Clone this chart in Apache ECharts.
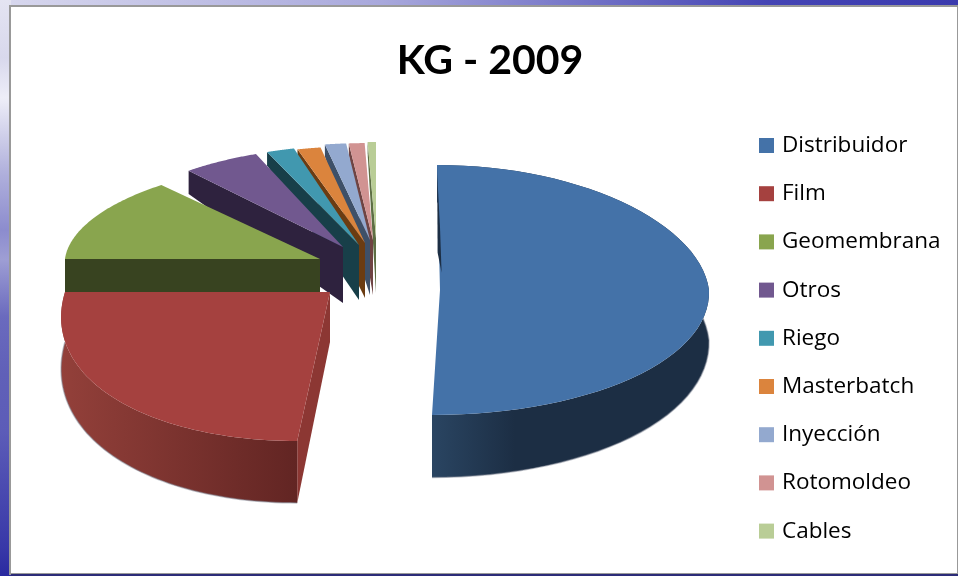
<!DOCTYPE html>
<html>
<head>
<meta charset="utf-8">
<script src="https://cdn.jsdelivr.net/npm/echarts@6/dist/echarts.min.js"></script>
<style>
html, body { margin: 0; padding: 0; background: #fff; }
#chart { width: 958px; height: 576px; }
</style>
</head>
<body>
<div id="chart"></div>
<script>
var categories = ['Distribuidor', 'Film', 'Geomembrana', 'Otros', 'Riego', 'Masterbatch', 'Inyección', 'Rotomoldeo', 'Cables'];
var kgShare = [50, 25, 13.8, 5.2, 1.8, 1.45, 1.3, 0.95, 0.5];

var topColors = ['#4472A8', '#A5413F', '#89A54E', '#71588F', '#4198AF', '#DB843D', '#93A9CF', '#D19392', '#B9CD96'];
var sideColors = ['#1C2E44', '#8C3733', '#384320', '#2E223E', '#183F49', '#6B3C12', '#3E5068', '#6F4443', '#5D6E44'];

// exploded 3d look: each slice has its own tip and projected radii
var tipX = [440, 330, 320, 343, 359, 365, 370, 373, 376];
var tipY = [290, 292, 259, 247, 245, 243, 240, 240, 238];
var radX = [269, 265, 255, 248, 262, 272, 276, 280, 280];
var radY = [125, 149, 97, 100, 100, 97, 97, 97, 96];
var leanFront = [-0.064, -0.22, 0, 0, 0, 0, 0, 0, 0];
var leanRear = [0.024, 0, 0, 0, 0, 0, 0, 0, 0];
var depth0 = [50, 50, 50, 56, 55, 55, 55, 55, 55];
var depthK = [0.1, 0.08, 0, 0.43, 0.45, 0.45, 0.45, 0.45, 0.45];

var total = kgShare.reduce(function (a, b) { return a + b; }, 0);

function sliceAngles(i) {
  var before = 0;
  for (var k = 0; k < i; k++) before += kgShare[k];
  return [before / total * Math.PI * 2, (before + kgShare[i]) / total * Math.PI * 2];
}

function rimPoint(i, a) {
  var dy = -radY[i] * Math.cos(a);
  var x = tipX[i] + radX[i] * Math.sin(a) * (1 - 0.05 * Math.cos(a)) + (dy > 0 ? leanFront[i] : leanRear[i]) * dy;
  return [x, tipY[i] + dy];
}

function drop(i, p) {
  return [p[0], p[1] + depth0[i] + depthK[i] * (p[1] - tipY[i])];
}

function renderSlice(params, api) {
  var i = params.seriesIndex;
  var ang = sliceAngles(i);
  var tip = [tipX[i], tipY[i]];
  var rim = [];
  for (var n = 0; n <= 60; n++) rim.push(rimPoint(i, ang[0] + (ang[1] - ang[0]) * n / 60));
  var children = [];

  if (i > 0) {
    // cut face on the start side of the slice
    children.push({
      type: 'polygon',
      shape: { points: [tip, rim[0], drop(i, rim[0]), drop(i, tip)] },
      style: { fill: sideColors[i] }
    });
  }
  if (i < 2) {
    // outer wall, only the two front slices show one
    var under = rim.map(function (p) { return drop(i, p); });
    var fill = i === 0
      ? new echarts.graphic.LinearGradient(0, 0, 1, 0, [
          { offset: 0, color: '#2A4562' }, { offset: 0.3, color: '#1C2E44' }, { offset: 1, color: '#1C2E44' }])
      : new echarts.graphic.LinearGradient(0, 0, 1, 0, [
          { offset: 0, color: '#93403A' }, { offset: 1, color: '#622523' }]);
    children.push({ type: 'polygon', shape: { points: rim.concat(under.slice().reverse()) }, style: { fill: fill } });
    children.push({
      type: 'polyline',
      shape: { points: under },
      style: { fill: 'none', stroke: 'rgba(130,135,150,0.5)', lineWidth: 1.5 }
    });
  }
  children.push({
    type: 'polygon',
    shape: { points: [tip].concat(rim) },
    style: { fill: api.visual('color') }
  });
  if (i === 0) {
    // thin dark crescent of the hidden cut face along the back edge
    var edge = function (t, dx) {
      return [rim[0][0] + (tip[0] - rim[0][0]) * t + dx, rim[0][1] + (tip[1] - rim[0][1]) * t];
    };
    children.push({
      type: 'polygon',
      shape: { points: [edge(0.08, 0), edge(0.5, 1.5), edge(0.86, 2), edge(0.7, -1.5)] },
      style: { fill: sideColors[0] }
    });
  }
  return { type: 'group', children: children };
}

var chart = echarts.init(document.getElementById('chart'));

chart.setOption({
  animation: false,
  backgroundColor: '#fff',
  title: {
    text: 'KG - 2009',
    left: 485,
    top: 35,
    textAlign: 'center',
    textStyle: { fontFamily: 'Lato', fontSize: 41, fontWeight: 'bold', color: '#000' }
  },
  legend: {
    orient: 'vertical',
    left: 759,
    top: 134,
    padding: 0,
    itemWidth: 15,
    itemHeight: 15,
    itemGap: 25.2,
    icon: 'rect',
    data: categories,
    textStyle: { fontFamily: 'Open Sans', fontSize: 22.5, color: '#000', padding: [0, 0, 0, 3] }
  },
  graphic: [
    { type: 'rect', z: -10, shape: { x: 0, y: 0, width: 958, height: 8 },
      style: { fill: new echarts.graphic.LinearGradient(0, 0, 1, 0, [
        { offset: 0, color: '#D8D8EE' }, { offset: 0.4, color: '#A8A8DC' }, { offset: 0.8, color: '#4444B4' }, { offset: 1, color: '#3A3AAE' }]) } },
    { type: 'rect', z: -10, shape: { x: 0, y: 0, width: 11, height: 576 },
      style: { fill: new echarts.graphic.LinearGradient(0, 0, 0, 1, [
        { offset: 0, color: '#E4E4F2' }, { offset: 0.1, color: '#D8D8EC' }, { offset: 0.17, color: '#EEEEF8' },
        { offset: 0.25, color: '#C8C8E6' }, { offset: 0.3, color: '#B0B0DC' }, { offset: 0.4, color: '#8C8CCE' },
        { offset: 0.45, color: '#9E9ED4' }, { offset: 0.55, color: '#6A6ABE' }, { offset: 0.65, color: '#6060B8' },
        { offset: 0.75, color: '#5C5CB8' }, { offset: 0.85, color: '#4A4AB0' }, { offset: 0.95, color: '#3838A8' },
        { offset: 1, color: '#2A2AA0' }]) } },
    { type: 'rect', z: -9, shape: { x: 10, y: 6, width: 948, height: 568 },
      style: { fill: '#fff', stroke: '#999', lineWidth: 2 } },
    { type: 'rect', z: -9, shape: { x: 11, y: 574, width: 947, height: 2 }, style: { fill: '#2C2C78' } }
  ],
  series: categories.map(function (name, i) {
    return {
      type: 'custom',
      name: name,
      coordinateSystem: 'none',
      clip: false,
      silent: true,
      z: 20 - i,
      itemStyle: { color: topColors[i] },
      renderItem: renderSlice,
      data: [[kgShare[i]]]
    };
  })
});
</script>
</body>
</html>
